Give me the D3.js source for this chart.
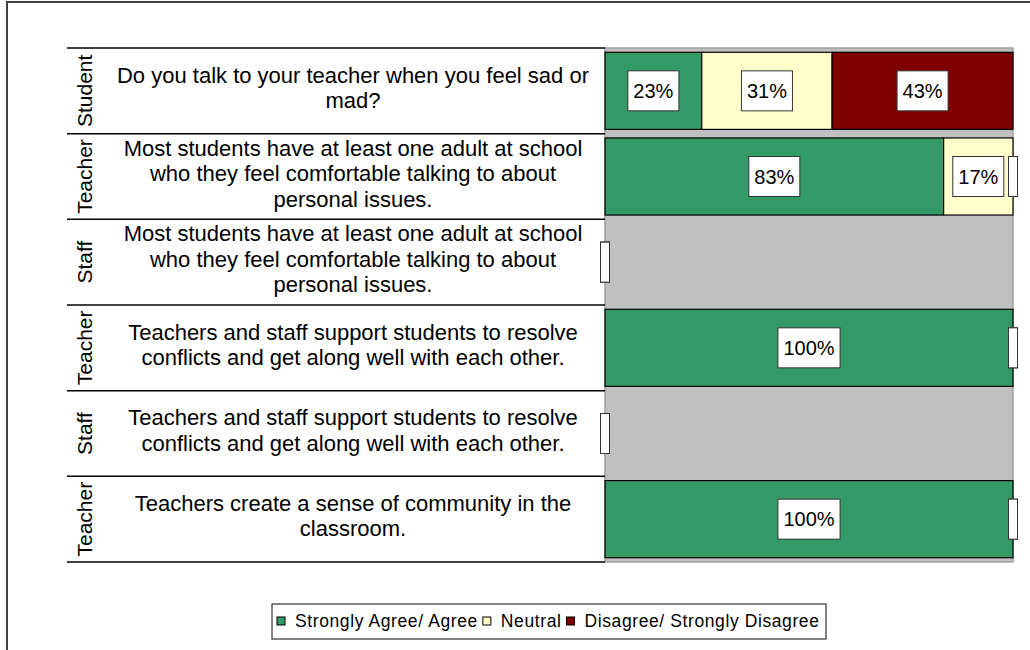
<!DOCTYPE html>
<html>
<head>
<meta charset="utf-8">
<script src="https://cdn.jsdelivr.net/npm/d3@7"></script>
<style>
  body { margin: 0; background: #fff; }
  text { font-family: "Liberation Sans", Arial, sans-serif; fill: #000; }
</style>
</head>
<body>
<div id="chart-area"></div>
<script>
// data
const groups = ["Student", "Teacher", "Staff", "Teacher", "Staff", "Teacher"];
const questions = [
    ["Do you talk to your teacher when you feel sad or", "mad?"],
    ["Most students have at least one adult at school", "who they feel comfortable talking to about", "personal issues."],
    ["Most students have at least one adult at school", "who they feel comfortable talking to about", "personal issues."],
    ["Teachers and staff support students to resolve", "conflicts and get along well with each other."],
    ["Teachers and staff support students to resolve", "conflicts and get along well with each other."],
    ["Teachers create a sense of community in the", "classroom."]
];
const agree    = [23, 83, 0, 100, 0, 100];
const neutral  = [31, 17, 0, 0, 0, 0];
const disagree = [43, 0, 0, 0, 0, 0];

const seriesNames = ["Strongly Agree/ Agree", "Neutral", "Disagree/ Strongly Disagree"];
const seriesColors = ["#339966", "#ffffcc", "#800000"];

const full_width = 1030, full_height = 650;
const plot = { left: 605, right: 1013, top: 48, bottom: 562 };
const tableLeft = 67;

const svg = d3.select("#chart-area")
    .append("svg")
    .attr("width", full_width)
    .attr("height", full_height);

// outer frame
svg.append("rect")
    .attr("x", 7).attr("y", 2)
    .attr("width", 1100).attr("height", 700)
    .attr("fill", "none")
    .attr("stroke", "#404040")
    .attr("stroke-width", 2);

const rows = groups.map((g, i) => ({ i: i, a: agree[i], n: neutral[i], d: disagree[i] }));
const keys = ["a", "n", "d"];

const stack = d3.stack().keys(keys).offset(d3.stackOffsetExpand);
const stacked = stack(rows);

const x = d3.scaleLinear().domain([0, 1]).range([plot.left, plot.right]);
const y = d3.scaleBand()
    .domain(rows.map(d => d.i))
    .range([plot.top, plot.bottom])
    .paddingInner(0.1)
    .paddingOuter(0.05);

const gap = (y.step() - y.bandwidth()) / 2;

// plot background
svg.append("rect")
    .attr("x", plot.left).attr("y", plot.top)
    .attr("width", plot.right - plot.left)
    .attr("height", plot.bottom - plot.top)
    .attr("fill", "#c0c0c0")
    .attr("stroke", "#a0a0a0")
    .attr("stroke-width", 1.5);

// table separators
const seps = rows.map(d => y(d.i) - gap).concat([plot.bottom]);
svg.selectAll(".sep")
    .data(seps)
    .enter().append("line")
    .attr("class", "sep")
    .attr("x1", tableLeft).attr("x2", plot.left)
    .attr("y1", d => d).attr("y2", d => d)
    .attr("stroke", "#000")
    .attr("stroke-width", 1.5);

// group labels (rotated)
svg.selectAll(".grp")
    .data(rows)
    .enter().append("text")
    .attr("class", "grp")
    .attr("transform", d => "translate(92," + (y(d.i) + y.bandwidth() / 2) + ") rotate(-90)")
    .attr("text-anchor", "middle")
    .attr("font-size", "21px")
    .text(d => groups[d.i]);

// question text
const lineH = 25.5;
rows.forEach(d => {
    const lines = questions[d.i];
    const cy = y(d.i) + y.bandwidth() / 2 - 3;
    const t = svg.append("text")
        .attr("text-anchor", "middle")
        .attr("font-size", "22px");
    lines.forEach((ln, k) => {
        t.append("tspan")
            .attr("x", 353)
            .attr("y", cy + (k - (lines.length - 1) / 2) * lineH + 7.5)
            .text(ln);
    });
});

// bars
const layers = svg.selectAll(".layer")
    .data(stacked)
    .enter().append("g")
    .attr("class", "layer")
    .attr("fill", (s, k) => seriesColors[k]);

layers.selectAll("rect")
    .data(s => s.filter(p => p[1] - p[0] > 0))
    .enter().append("rect")
    .attr("x", p => x(p[0]))
    .attr("y", p => y(p.data.i))
    .attr("width", p => x(p[1]) - x(p[0]))
    .attr("height", y.bandwidth())
    .attr("stroke", "#000")
    .attr("stroke-width", 1.2);

// data labels
const boxH = 40;
stacked.forEach(s => {
    s.forEach(p => {
        const v = p.data[s.key];
        const cx = x((p[0] + p[1]) / 2);
        const cy = y(p.data.i) + y.bandwidth() / 2;
        const lg = svg.append("g");
        const box = lg.append("rect")
            .attr("fill", "#fff")
            .attr("stroke", "#333")
            .attr("stroke-width", 1);
        let w = 9;
        if (v > 0) {
            const txt = lg.append("text")
                .attr("x", cx).attr("y", cy + 7)
                .attr("text-anchor", "middle")
                .attr("font-size", "20px")
                .text(v + "%");
            w = txt.node().getComputedTextLength() + 11;
        }
        box.attr("x", cx - w / 2).attr("y", cy - boxH / 2)
            .attr("width", w).attr("height", boxH);
    });
});

// legend
const legend = svg.append("g");
legend.append("rect")
    .attr("x", 272).attr("y", 604)
    .attr("width", 554).attr("height", 35)
    .attr("fill", "#fff")
    .attr("stroke", "#333")
    .attr("stroke-width", 1.2);
let lx = 277;
seriesNames.forEach((name, k) => {
    legend.append("rect")
        .attr("x", lx).attr("y", 617)
        .attr("width", 8).attr("height", 8)
        .attr("fill", seriesColors[k])
        .attr("stroke", "#000");
    const t = legend.append("text")
        .attr("x", lx + 18).attr("y", 627)
        .attr("font-size", "17.5px")
        .attr("letter-spacing", "0.6px")
        .text(name);
    lx += 18 + t.node().getComputedTextLength() + 5;
});
</script>
</body>
</html>
